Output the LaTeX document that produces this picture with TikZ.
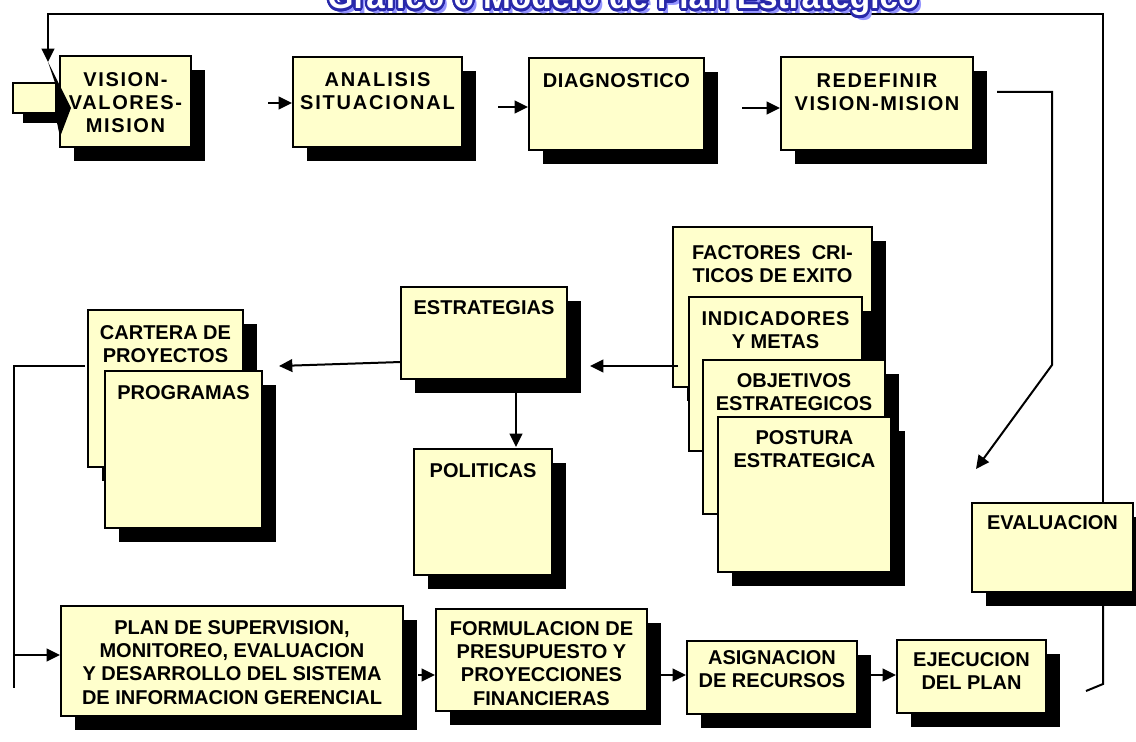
\documentclass[tikz,border=0pt]{standalone}
\usepackage{fontspec}
\setmainfont{Liberation Sans}
\usetikzlibrary{arrows.meta,shadows}
\definecolor{boxfill}{RGB}{255,255,204}
\definecolor{tdark}{RGB}{40,40,170}
\definecolor{tshadow}{RGB}{150,150,255}
\newcommand\bx[7]{%
  \node[box, minimum width={(#4-#2)*0.75pt}, minimum height={(#5-#3)*0.75pt}] (#1) at ({(#2+#4)/2},{(#3+#5)/2}) {};
  \node[txt, anchor=north] (#1t) at ({(#2+#4)/2},#6) {#7};
}
\newcommand\ls[2]{{\addfontfeature{LetterSpace=#1}#2}}
\newcommand\ttl{Gráfico o Modelo de Plan Estratégico}
\begin{document}
\begin{tikzpicture}[x=0.75pt,y=-0.75pt,
  box/.style={draw=black, line width=1.5pt, fill=boxfill, inner sep=0pt,
    general shadow={shadow xshift=10.5pt, shadow yshift=-10.5pt, fill=black, draw=none}},
  txt/.style={font=\bfseries\fontsize{15pt}{17.5pt}\selectfont, align=center, inner sep=0pt},
  titlef/.style={font=\bfseries\fontsize{25pt}{30pt}\selectfont, inner sep=0pt, anchor=base},
  conn/.style={line width=1.5pt},
  arr/.style={conn, -{Triangle[length=10pt,width=9.5pt]}},
]
\useasboundingbox (0,0) rectangle (1136,742);

% boxes
\bx{vis}{60}{56}{191}{147}{72}{\ls{8}{VISION-}\\\ls{8}{VALORES-}\\\ls{8}{MISION}}
\bx{ana}{293}{57}{462}{147}{72}{\ls{9}{ANALISIS}\\\ls{9}{SITUACIONAL}}
\bx{dia}{529}{58}{704}{150}{73}{\ls{3}{DIAGNOSTICO}}
\bx{red}{781}{57}{973}{150}{73}{\ls{8}{REDEFINIR}\\\ls{8}{VISION-MISION}}
\bx{fac}{673}{227}{872}{387}{245}{FACTORES\ \ CRI-\\TICOS DE EXITO}
\bx{ind}{689}{297}{862}{451}{311}{\ls{4}{INDICADORES}\\Y METAS}
\bx{obj}{703}{360}{885}{514}{373}{OBJETIVOS\\ESTRATEGICOS}
\bx{pos}{718}{417}{891}{572}{430}{POSTURA\\ESTRATEGICA}
\bx{est}{401}{287}{567}{379}{300}{ESTRATEGIAS}
\bx{pol}{414}{449}{552}{575}{463}{POLITICAS}
\bx{car}{88}{310}{243}{467}{325}{CARTERA DE\\PROYECTOS}
\bx{pro}{105}{371}{262}{528}{385}{PROGRAMAS}
\bx{eva}{972}{503}{1133}{592}{515}{EVALUACION}
\bx{pla}{61}{606}{403}{716}{620}{PLAN DE SUPERVISION,\\MONITOREO, EVALUACION\\Y DESARROLLO DEL SISTEMA\\DE INFORMACION GERENCIAL}
\bx{for}{436}{609}{647}{711}{621}{FORMULACION DE\\PRESUPUESTO Y\\PROYECCIONES\\FINANCIERAS}
\bx{asi}{687}{641}{857}{714}{650}{ASIGNACION\\DE RECURSOS}
\bx{eje}{897}{640}{1046}{713}{652}{EJECUCION\\DEL PLAN}

% block arrow at the start (over the first box)
\fill[black] (23,93) rectangle (62,123);
\draw[line width=1pt, fill=boxfill] (55,83) -- (13,83) -- (13,113) -- (55,113);
\fill[black] (48,62) -- (71,108) -- (60,137) -- (55,113) -- (55,83) -- cycle;
\coordinate (arrin) at (48,62);

% coordinates for connectors
\coordinate (tr) at (1103,14);
\coordinate (tl) at (48,14);
\coordinate (evs) at (1103,606);
\coordinate (brk) at (1103,684);
\coordinate (bend) at (1086,691);
\coordinate (r0) at (997,92);
\coordinate (r1) at (1052,92);
\coordinate (r2) at (1052,365);
\coordinate (r3) at (976,469);
\coordinate (l0) at (85,366);
\coordinate (l1) at (14,366);
\coordinate (l2) at (14,688);
\coordinate (l3) at (14,655);
\coordinate (a1) at (268,103);
\coordinate (a2) at (498,107);
\coordinate (a3) at (742,108);
\coordinate (m1) at (678,366);
\coordinate (m2) at (590,366);
\coordinate (m3) at (401,362);
\coordinate (m4) at (279,366);
\coordinate (d1) at (516,393);
\coordinate (d2) at (516,447);
\coordinate (b1) at (418,675);
\coordinate (b2) at (661,675);
\coordinate (b3) at (871,675);

% connectors
\draw[arr] (eva.north -| tr) -- (tr) -- (tl) -- (arrin);
\draw[conn] (evs) -- (brk) -- (bend);
\draw[arr] (r0) -- (r1) -- (r2) -- (r3);
\draw[conn] (l0) -- (l1) -- (l2);
\draw[arr] (l3) -- (l3 -| pla.west);
\draw[arr] (a1) -- (a1 -| ana.west);
\draw[arr] (a2) -- (a2 -| dia.west);
\draw[arr] (a3) -- (a3 -| red.west);
\draw[arr] (m1) -- (m2);
\draw[arr] (m3) -- (m4);
\draw[arr] (d1) -- (d2);
\draw[arr] (b1) -- (b1 -| for.west);
\draw[arr] (b2) -- (b2 -| asi.west);
\draw[arr] (b3) -- (b3 -| eje.west);

% title (cut by the top edge)
\begin{scope}
\clip (0,0) rectangle (1136,742);
\node[titlef, text=tshadow] (tsh) at (627,14) {\ttl};
\foreach \a [count=\i] in {0,22.5,...,337.5}
  \node[titlef, text=tdark, xshift={1.8pt*cos(\a)}, yshift={1.8pt*sin(\a)}] (to\i) at (623,9) {\ttl};
\node[titlef, text=white] (title) at (623,9) {\ttl};
\end{scope}
\end{tikzpicture}
\end{document}
